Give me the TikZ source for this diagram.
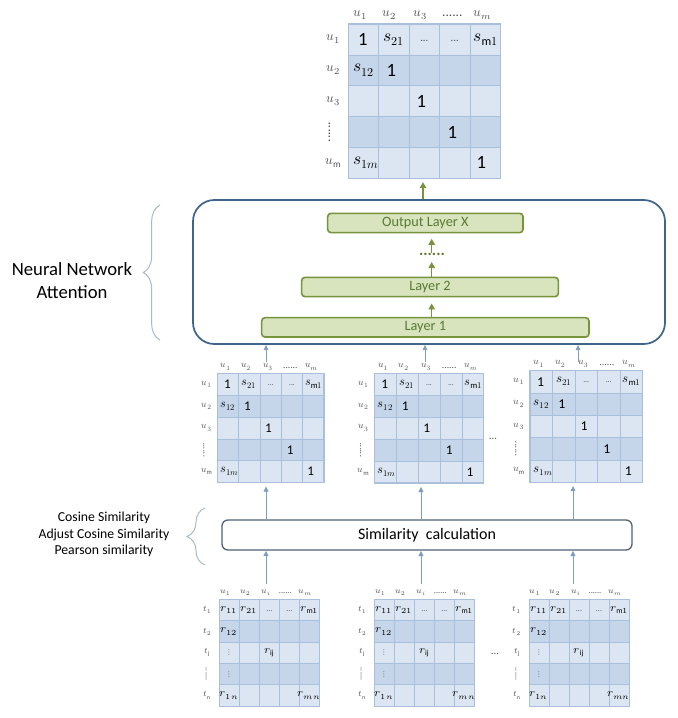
\documentclass[tikz,border=0pt]{standalone}
\usepackage{fontspec}
\usepackage{unicode-math}
\setmainfont{Carlito}
\usetikzlibrary{arrows.meta,decorations.pathreplacing}
\definecolor{rowA}{HTML}{DCE6F2}
\definecolor{rowB}{HTML}{C6D6EA}
\definecolor{gridc}{HTML}{A9C0DC}
\definecolor{nnblue}{HTML}{41658A}
\definecolor{simbd}{HTML}{4F6375}
\definecolor{arrblue}{HTML}{7F9DBD}
\definecolor{lfill}{HTML}{D7E4BD}
\definecolor{ldraw}{HTML}{77933C}
\definecolor{ltext}{HTML}{5A7A33}
\definecolor{bracec}{HTML}{A8B9C8}
\definecolor{lblc}{HTML}{505050}
\definecolor{entc}{HTML}{000000}
\tikzset{
  barrow/.style={draw=arrblue,line width=0.7pt,-{Triangle[length=4pt,width=3.6pt]}},
  garrow/.style={draw=ldraw,line width=1.1pt,-{Triangle[length=4.5pt,width=4.8pt]}},
  layerbox/.style={draw=ldraw,fill=lfill,line width=1.2pt,rounded corners=2.5pt,text=ltext,
    font=\fontsize{10.7}{12}\selectfont,inner sep=0pt,minimum height=14.5pt},
  gridbox/.style={draw=gridc,line width=0.8pt,inner sep=0pt,minimum width=114pt,minimum height=115.7pt},
  rgridbox/.style={draw=gridc,line width=0.7pt,inner sep=0pt,minimum width=75.4pt,minimum height=79.9pt},
  gridin/.style={draw=gridc,line width=0.5pt},
  hdr/.style={text=lblc,inner sep=0pt,font=\fontsize{10}{11}\selectfont},
  rhdr/.style={text=lblc,inner sep=0pt,font=\fontsize{6.3}{7}\selectfont},
  onec/.style={text=entc,inner sep=0pt,font=\fontsize{14}{15}\selectfont},
  ent/.style={text=entc,inner sep=0pt,font=\fontsize{13}{14}\selectfont},
  rent/.style={text=entc,inner sep=0pt,font=\fontsize{8.3}{9}\selectfont},
  ddots/.style={text=lblc,inner sep=0pt,font=\fontsize{8}{9}\selectfont},
  bracedec/.style={draw=bracec,line width=0.75pt,decorate},
  lefttext/.style={text=entc,align=center,inner sep=0pt},
}
% similarity matrix: #1 name, #2 x, #3 y, #4 xscale, #5 yscale
\newcommand\simmat[5]{%
\begin{scope}[shift={(#2,#3)},xscale=#4,yscale=#5,transform shape]
\fill[rowA] (0,0) rectangle (152,30.85);
\fill[rowB] (0,30.85) rectangle (152,61.7);
\fill[rowA] (0,61.7) rectangle (152,92.55);
\fill[rowB] (0,92.55) rectangle (152,123.4);
\fill[rowA] (0,123.4) rectangle (152,154.25);
\foreach \k in {1,2,3,4}{\draw[gridin] (\k*30.4,0) -- (\k*30.4,154.25);
  \draw[gridin] (0,\k*30.85) -- (152,\k*30.85);}
\node[gridbox] (#1) at (76,77.125) {};
\node[hdr] at (12,-9) {$u_1$};
\node[hdr] at (41,-9) {$u_2$};
\node[hdr] at (72,-9) {$u_3$};
\node[hdr] at (104,-8) {......};
\node[hdr] at (134,-9) {$u_m$};
\node[hdr] at (-15,15.4) {$u_1$};
\node[hdr] at (-15,46.3) {$u_2$};
\node[hdr] at (-15,77.1) {$u_3$};
\node[hdr,rotate=90] at (-19,108) {......};
\node[hdr] at (-15,138.8) {$u_{\mathrm{m}}$};
\node[onec] at (14.5,15.4) {1};
\node[ent] at (45.6,15.4) {$s_{21}$};
\node[ddots] at (76,16.5) {...};
\node[ddots] at (106.4,16.5) {...};
\node[ent] at (137.5,15.4) {$s_{\mathrm{m}1}$};
\node[ent] at (15.5,46.3) {$s_{12}$};
\node[onec] at (43,46.3) {1};
\node[onec] at (73,77.1) {1};
\node[onec] at (104,108) {1};
\node[ent] at (17.5,138.8) {$s_{1m}$};
\node[onec] at (133,138.8) {1};
\end{scope}}
% rating matrix: #1 name, #2 x, #3 y
\newcommand\ratmat[3]{%
\begin{scope}[shift={(#2,#3)}]
\fill[rowA] (0,0) rectangle (100.5,21.3);
\fill[rowB] (0,21.3) rectangle (100.5,42.6);
\fill[rowA] (0,42.6) rectangle (100.5,63.9);
\fill[rowB] (0,63.9) rectangle (100.5,85.2);
\fill[rowA] (0,85.2) rectangle (100.5,106.5);
\foreach \k in {1,2,3,4}{\draw[gridin] (\k*20.1,0) -- (\k*20.1,106.5);
  \draw[gridin] (0,\k*21.3) -- (100.5,\k*21.3);}
\node[rgridbox] (#1) at (50.25,53.25) {};
\node[rhdr] at (6,-7) {$u_1$};
\node[rhdr] at (26,-7) {$u_2$};
\node[rhdr] at (47,-7) {$u_i$};
\node[rhdr] at (66,-6.5) {......};
\node[rhdr] at (86,-7) {$u_m$};
\node[rhdr] at (-12,10.65) {$t_1$};
\node[rhdr] at (-12,31.95) {$t_2$};
\node[rhdr] at (-12,53.25) {$t_{\mathrm{j}}$};
\node[rhdr,rotate=90] at (-13,74.55) {......};
\node[rhdr] at (-12,95.85) {$t_{\mathrm{n}}$};
\node[rent] at (10,10.65) {$r_{11}$};
\node[rent] at (30,10.65) {$r_{21}$};
\node[ddots,font=\fontsize{6}{7}\selectfont] at (50,11.5) {...};
\node[ddots,font=\fontsize{6}{7}\selectfont] at (70,11.5) {...};
\node[rent] at (90.5,10.65) {$r_{\mathrm{m}1}$};
\node[rent] at (10,31.95) {$r_{12}$};
\node[rent,font=\fontsize{6}{7}\selectfont] at (10,53.25) {$\vdots$};
\node[rent] at (50,53.25) {$r_{\mathrm{ij}}$};
\node[rent,font=\fontsize{6}{7}\selectfont] at (10,74.55) {$\vdots$};
\node[rent] at (10,95.85) {$r_{1n}$};
\node[rent] at (90,95.85) {$r_{mn}$};
\end{scope}}
\begin{document}
\begin{tikzpicture}[x=0.75pt,y=-0.75pt]
\useasboundingbox (0,0) rectangle (678,718);
% matrices
\simmat{TM}{348.3}{24}{1}{1}
\simmat{M1}{217.3}{373.3}{0.702}{0.709}
\simmat{M2}{374.3}{373.3}{0.72}{0.711}
\simmat{M3}{530}{370.5}{0.74}{0.724}
\ratmat{R1}{219.3}{599.5}
\ratmat{R2}{374.3}{599.5}
\ratmat{R3}{529}{599.5}
\node[ddots] (dm) at (493,439) {...};
\node[ddots] (db) at (495,654) {...};
% neural network box
\node[draw=nnblue,line width=1.3pt,rounded corners=16pt,minimum width=354pt,minimum height=108pt,inner sep=0pt] (NN) at (429,272) {};
\node[layerbox,minimum width=245.5pt] (L1) at (425.35,327.35) {Layer 1};
\node[layerbox,minimum width=192.5pt] (L2) at (430,287) {Layer 2};
\node[layerbox,minimum width=146.5pt] (LX) at (425.35,223) {Output Layer X};
\node[text=ldraw!80!black,inner sep=0pt,font=\bfseries\fontsize{12}{13}\selectfont] (dots) at (432,254) {......};
\coordinate (g1) at (431.7,262);
\coordinate (g2) at (431.7,252.5);
\draw[garrow,shorten >=4.5pt] (L1.north -| g1) -- (L2.south -| g1);
\draw[garrow] (L2.north -| g1) -- (g1);
\draw[garrow,shorten >=4pt] (g2) -- (LX.south -| g2);
\coordinate (tx) at (423,190);
\draw[garrow,shorten >=2.5pt] (NN.north -| tx) -- (tx |- TM.south);
% similarity box
\node[draw=simbd,line width=1pt,rounded corners=4.5pt,minimum width=307.5pt,minimum height=22.5pt,inner sep=0pt,
  font=\fontsize{12}{14}\selectfont,text=entc] (SB) at (427,535) {Similarity~ calculation};
% arrows bottom -> similarity
\coordinate (b1) at (266,584);
\coordinate (b2) at (421,584);
\coordinate (b3) at (573,584);
\draw[barrow] (b1) -- (b1 |- SB.south);
\draw[barrow] (b2) -- (b2 |- SB.south);
\draw[barrow] (b3) -- (b3 |- SB.south);
\draw[barrow,shorten >=2.5pt] (SB.north -| b1) -- (b1 |- M1.south);
\draw[barrow,shorten >=2.5pt] (SB.north -| b2) -- (b2 |- M2.south);
\draw[barrow,shorten >=2.5pt] (SB.north -| b3) -- (b3 |- M3.south);
% arrows middle -> NN
\coordinate (c1) at (266,362);
\coordinate (c2) at (425,362);
\coordinate (c3) at (578,362);
\draw[barrow] (c1) -- (c1 |- NN.south);
\draw[barrow] (c2) -- (c2 |- NN.south);
\draw[barrow] (c3) -- (c3 |- NN.south);
% left labels and braces
\node[lefttext,font=\fontsize{14}{17.25}\selectfont] (nnlbl) at (72,280.5) {Neural Network\\Attention};
\draw[bracedec,decoration={brace,amplitude=12.5pt}] (160,340) -- (160,205);
\node[lefttext,font=\fontsize{10.3}{12.4}\selectfont] (simlbl) at (104,534.5) {Cosine Similarity\\Adjust Cosine Similarity\\Pearson similarity};
\draw[bracedec,decoration={brace,amplitude=13.5pt}] (205,565) -- (205,508);
\end{tikzpicture}
\end{document}
